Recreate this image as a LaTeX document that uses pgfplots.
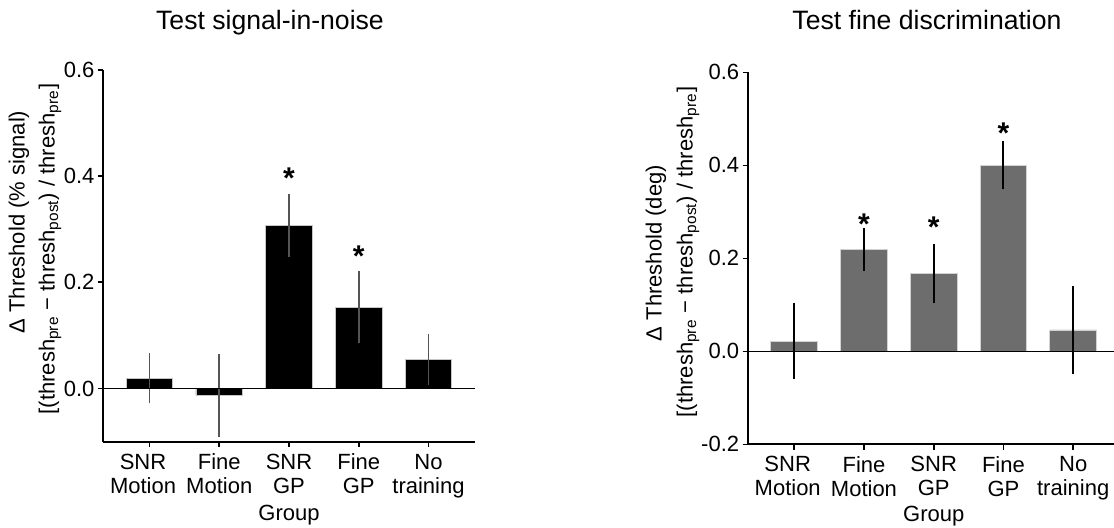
\documentclass[border=0pt]{standalone}
\usepackage{fontspec}
\setmainfont{Liberation Sans}
\usepackage{pgfplots}
\pgfplotsset{compat=1.18}

\definecolor{barGray}{HTML}{6D6D6D}
\definecolor{errGray}{HTML}{555555}

\pgfplotsset{
  grpaxis/.style={
    scale only axis, width=186pt, height=186pt,
    xmin=-0.667, xmax=4.667,
    axis x line*=bottom, axis y line*=left,
    axis line style={line width=0.9pt},
    tick align=outside, major tick length=2.6pt,
    tick style={black, line width=0.8pt},
    xtick={0,1,2,3,4},
    xticklabels={{SNR\hspace*{6.5pt}\\Motion\hspace*{6.5pt}},{Fine\\Motion},{SNR\\GP},{Fine\\GP},{No\\training}},
    xticklabel style={align=center, font=\fontsize{11}{12}\selectfont},
    yticklabel style={font=\fontsize{11}{12}\selectfont, inner sep=1.5pt},
    ybar, bar width=23.35pt, bar shift=0pt,
    clip=false,
  },
}
\tikzset{sigstar/.style={font=\fontsize{15}{15}\selectfont\bfseries, anchor=base, yshift=-8.8pt}}

\begin{document}
\begin{tikzpicture}
% left panel
\begin{axis}[grpaxis,
    ymin=-0.1, ymax=0.6,
    ytick={0,0.2,0.4,0.6}, yticklabels={0.0,0.2,0.4,0.6}]
\addplot[fill=black, draw=gray!45, line width=0.4pt,
  error bars/.cd, y dir=both, y explicit, error mark=none,
  error bar style={errGray, line width=0.8pt}]
  coordinates {
    (0,0.019) +- (0,0.047)
    (1,-0.0125) +- (0,0.078)
    (2,0.307) +- (0,0.059)
    (3,0.153) +- (0,0.068)
    (4,0.055) +- (0,0.048)
  };
\draw[line width=0.8pt] (axis cs:-0.667,0) -- (axis cs:4.667,0);
\node[sigstar] at (axis cs:2,0.410) {*};
\node[sigstar] at (axis cs:3,0.263) {*};
\node[anchor=base, font=\fontsize{11}{12}\selectfont] at (axis description cs:0.5,0) [yshift=-39.15pt] {Group};
\end{axis}

% right panel
\begin{axis}[grpaxis, at={(322.35pt,-1.3pt)}, anchor=south west,
    ymin=-0.2, ymax=0.6,
    ytick={-0.2,0,0.2,0.4,0.6}, yticklabels={-0.2,0.0,0.2,0.4,0.6}]
\addplot[fill=barGray, draw=gray!35, line width=0.4pt,
  error bars/.cd, y dir=both, y explicit, error mark=none,
  error bar style={black, line width=1pt}]
  coordinates {
    (0,0.022) +- (0,0.082)
    (1,0.219) +- (0,0.047)
    (2,0.167) +- (0,0.063)
    (3,0.400) +- (0,0.052)
    (4,0.046) +- (0,0.094)
  };
\draw[line width=0.8pt] (axis cs:-0.667,0) -- (axis cs:4.667,0);
\node[sigstar] at (axis cs:1,0.289) {*};
\node[sigstar] at (axis cs:2,0.282) {*};
\node[sigstar] at (axis cs:3,0.485) {*};
\node[anchor=base, font=\fontsize{11}{12}\selectfont] at (axis description cs:0.5,0) [yshift=-38.7pt] {Group};
\end{axis}

% titles
\node[anchor=base, font=\fontsize{13.3}{16}\selectfont] at (83.5pt,206.35pt) {Test signal-in-noise};
\node[anchor=base, font=\fontsize{13.3}{16}\selectfont] at (412pt,206.35pt) {Test fine discrimination};

% y labels
\node[rotate=90, font=\fontsize{11}{12}\selectfont] at (-42pt,109.85pt) {Δ Threshold (\% signal)};
\node[rotate=90, font=\fontsize{11}{12}\selectfont] at (-26.5pt,96.35pt) {[(thresh\textsubscript{pre} − thresh\textsubscript{post}) / thresh\textsubscript{pre}]};
\node[rotate=90, font=\fontsize{11}{12}\selectfont] at (276.5pt,94.35pt) {Δ Threshold (deg)};
\node[rotate=90, font=\fontsize{11}{12}\selectfont] at (292.5pt,94.85pt) {[(thresh\textsubscript{pre} − thresh\textsubscript{post}) / thresh\textsubscript{pre}]};

\pgfresetboundingbox
\path[use as bounding box] (-51.5pt,-42.65pt) rectangle (505.5pt,220.85pt);
\end{tikzpicture}
\end{document}
